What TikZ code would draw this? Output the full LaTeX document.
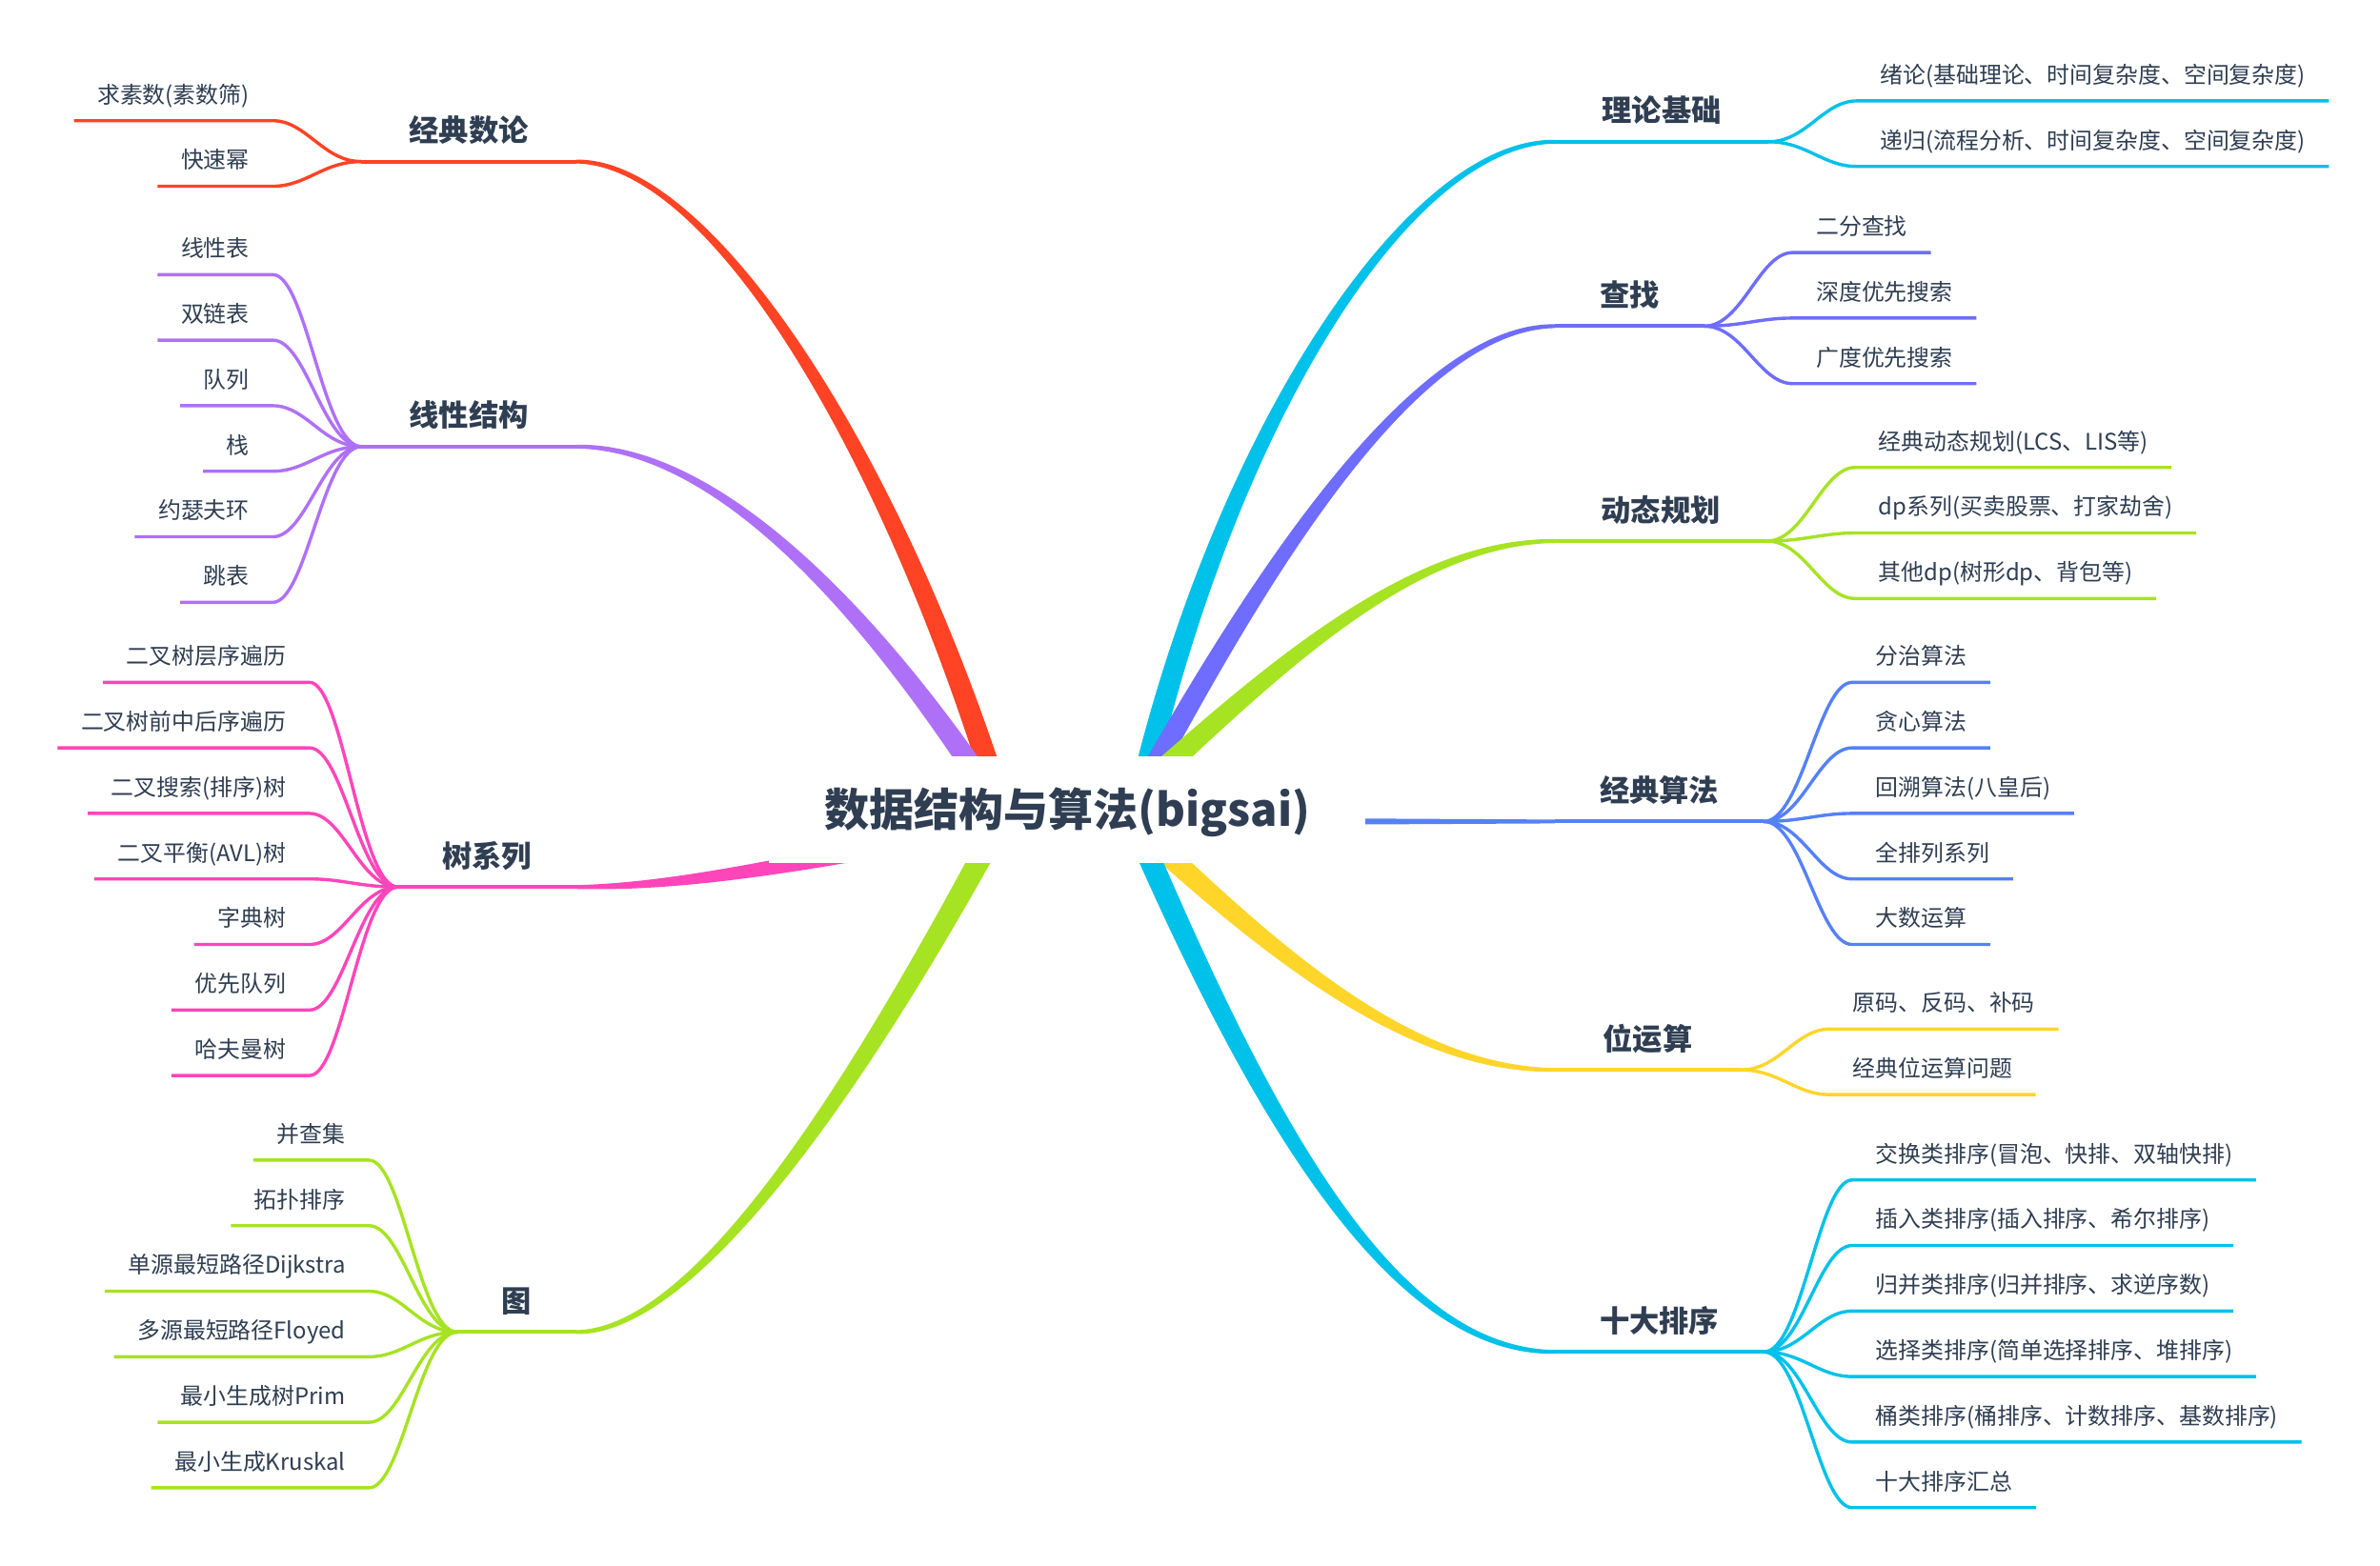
\documentclass[tikz,border=0pt]{standalone}
\usepackage{fontspec}
\setmainfont{Noto Sans CJK SC}
\usepackage{tikz}
\usetikzlibrary{calc}

\definecolor{inkc}{HTML}{2F3E52}
\definecolor{redc}{HTML}{FF4324}
\definecolor{purplec}{HTML}{AF70F8}
\definecolor{pinkc}{HTML}{FF45BA}
\definecolor{greenc}{HTML}{A6E322}
\definecolor{cyanc}{HTML}{00C1E9}
\definecolor{indigoc}{HTML}{6E6DFF}
\definecolor{bluec}{HTML}{5581F6}
\definecolor{yellowc}{HTML}{FFD52A}

% half widths of a thick branch, from the topic end to the root end
\def\bwa{0.02cm}\def\bwb{0.045cm}\def\bwc{0.1cm}\def\bwd{0.12cm}

% tapered branch: color, start, control 1, control 2, end
\newcommand\thickbranch[5]{%
  \fill[#1] ($(#2)!\bwa!90:(#3)$) .. controls ($(#3)!\bwb!-90:(#2)$) and ($(#4)!\bwc!90:(#5)$) .. ($(#5)!\bwd!-90:(#4)$)
    -- ($(#5)!\bwd!90:(#4)$) .. controls ($(#4)!\bwc!-90:(#5)$) and ($(#3)!\bwb!90:(#2)$) .. ($(#2)!\bwa!-90:(#3)$) -- cycle;}

% leaves on the left / right of a hub: name, color, middle index, labels
\newcommand\leafsetL[4]{%
  \foreach \lbl [count=\i] in {#4} {
    \node[leafL] (#1-\i) at ($(#1-hub)+(-58,{-5.3+43*(\i-#3)})$) {\lbl};
    \draw[leafline,#2] (#1-hub) .. controls +(-25,0) and +(22,0) .. (#1-\i.south east) -- (#1-\i.south west);
  }}
\newcommand\leafsetR[4]{%
  \foreach \lbl [count=\i] in {#4} {
    \node[leafR] (#1-\i) at ($(#1-hub)+(58,{-5.3+43*(\i-#3)})$) {\lbl};
    \draw[leafline,#2] (#1-hub) .. controls +(25,0) and +(-22,0) .. (#1-\i.south west) -- (#1-\i.south east);
  }}

\begin{document}
\begin{tikzpicture}[x=0.016cm, y=-0.016cm,
  mainline/.style={line width=0.04cm},
  leafline/.style={line width=0.034cm},
  leaf/.style={font=\fontsize{6.8}{8}\selectfont, text=inkc, inner xsep=0.24cm, inner ysep=4.3pt, text height=6pt, text depth=0.8pt},
  leafL/.style={leaf, anchor=south east},
  leafR/.style={leaf, anchor=south west},
  topic/.style={font=\bfseries\fontsize{8.9}{10}\selectfont, text=inkc, anchor=south, inner ysep=4.65pt, text height=7.8pt, text depth=1.1pt},
  root/.style={fill=white, font=\bfseries\fontsize{13.4}{16}\selectfont, text=inkc, minimum width=6.27cm, minimum height=1.12cm, text height=11.8pt, text depth=1.6pt}]

  \fill[white] (0,0) rectangle (1561.25,1027.5);
  \useasboundingbox (0,0) rectangle (1561.25,1027.5);

  % left side
  \coordinate (shulun-hub) at (237,106);
  \coordinate (shulun-p0) at (378,106);
  \draw[mainline,redc] (shulun-hub) -- (shulun-p0);
  \thickbranch{redc}{shulun-p0}{468,106}{590,305}{660,540}
  \node[topic] (shulun) at ($(shulun-hub)!.5!(shulun-p0)$) {经典数论};
  \leafsetL{shulun}{redc}{1.5}{求素数(素数筛),快速幂}

  \coordinate (xianxing-hub) at (237,293);
  \coordinate (xianxing-p0) at (378,293);
  \draw[mainline,purplec] (xianxing-hub) -- (xianxing-p0);
  \thickbranch{purplec}{xianxing-p0}{478,293}{585,418}{665,545}
  \node[topic] (xianxing) at ($(xianxing-hub)!.5!(xianxing-p0)$) {线性结构};
  \leafsetL{xianxing}{purplec}{3.5}{线性表,双链表,队列,栈,约瑟夫环,跳表}

  \coordinate (shu-hub) at (261,582);
  \coordinate (shu-p0) at (378,582);
  \draw[mainline,pinkc] (shu-hub) -- (shu-p0);
  \thickbranch{pinkc}{shu-p0}{440,582}{520,570}{700,530}
  \node[topic] (shu) at ($(shu-hub)!.5!(shu-p0)$) {树系列};
  \leafsetL{shu}{pinkc}{4}{二叉树层序遍历,二叉树前中后序遍历,二叉搜索(排序)树,二叉平衡(AVL)树,字典树,优先队列,哈夫曼树}

  \coordinate (tu-hub) at (300,874);
  \coordinate (tu-p0) at (378,874);
  \draw[mainline,greenc] (tu-hub) -- (tu-p0);
  \thickbranch{greenc}{tu-p0}{458,874}{567,706}{661,530}
  \node[topic] (tu) at ($(tu-hub)!.5!(tu-p0)$) {图};
  \leafsetL{tu}{greenc}{3.5}{并查集,拓扑排序,单源最短路径Dijkstra,多源最短路径Floyed,最小生成树Prim,最小生成Kruskal}

  % right side
  \coordinate (lilun-hub) at (1160,93);
  \coordinate (lilun-p0) at (1020,93);
  \draw[mainline,cyanc] (lilun-hub) -- (lilun-p0);
  \thickbranch{cyanc}{lilun-p0}{920,93}{796,295}{744,540}
  \node[topic] (lilun) at ($(lilun-hub)!.5!(lilun-p0)$) {理论基础};
  \leafsetR{lilun}{cyanc}{1.5}{绪论(基础理论、时间复杂度、空间复杂度),递归(流程分析、时间复杂度、空间复杂度)}

  \coordinate (chazhao-hub) at (1118,214);
  \coordinate (chazhao-p0) at (1020,214);
  \draw[mainline,indigoc] (chazhao-hub) -- (chazhao-p0);
  \thickbranch{indigoc}{chazhao-p0}{920,214}{809,408}{737,540}
  \node[topic] (chazhao) at ($(chazhao-hub)!.5!(chazhao-p0)$) {查找};
  \leafsetR{chazhao}{indigoc}{2}{二分查找,深度优先搜索,广度优先搜索}

  \coordinate (dongtai-hub) at (1159,355);
  \coordinate (dongtai-p0) at (1020,355);
  \draw[mainline,greenc] (dongtai-hub) -- (dongtai-p0);
  \thickbranch{greenc}{dongtai-p0}{920,355}{824,450}{735,530}
  \node[topic] (dongtai) at ($(dongtai-hub)!.5!(dongtai-p0)$) {动态规划};
  \leafsetR{dongtai}{greenc}{2}{经典动态规划(LCS、LIS等),dp系列(买卖股票、打家劫舍),其他dp(树形dp、背包等)}

  \coordinate (suanfa-hub) at (1157,539);
  \coordinate (suanfa-p0) at (1020,539);
  \draw[mainline,bluec] (suanfa-hub) -- (suanfa-p0);
  \fill[bluec] ($(suanfa-p0)+(0,-1.25)$) -- (700,536) -- (700,542) -- ($(suanfa-p0)+(0,1.25)$) -- cycle;
  \node[topic] (suanfa) at ($(suanfa-hub)!.5!(suanfa-p0)$) {经典算法};
  \leafsetR{suanfa}{bluec}{3}{分治算法,贪心算法,回溯算法(八皇后),全排列系列,大数运算}

  \coordinate (wei-hub) at (1142,702);
  \coordinate (wei-p0) at (1020,702);
  \draw[mainline,yellowc] (wei-hub) -- (wei-p0);
  \thickbranch{yellowc}{wei-p0}{920,702}{826,617}{738,535}
  \node[topic] (wei) at ($(wei-hub)!.5!(wei-p0)$) {位运算};
  \leafsetR{wei}{yellowc}{1.5}{原码、反码、补码,经典位运算问题}

  \coordinate (paixu-hub) at (1157,887);
  \coordinate (paixu-p0) at (1020,887);
  \draw[mainline,cyanc] (paixu-hub) -- (paixu-p0);
  \thickbranch{cyanc}{paixu-p0}{920,887}{836,756}{742,535}
  \node[topic] (paixu) at ($(paixu-hub)!.5!(paixu-p0)$) {十大排序};
  \leafsetR{paixu}{cyanc}{3.5}{交换类排序(冒泡、快排、双轴快排),插入类排序(插入排序、希尔排序),归并类排序(归并排序、求逆序数),选择类排序(简单选择排序、堆排序),桶类排序(桶排序、计数排序、基数排序),十大排序汇总}

  % root on top of the branch ends
  \node[root] (root) at (700,531) {数据结构与算法(bigsai)};
\end{tikzpicture}
\end{document}
